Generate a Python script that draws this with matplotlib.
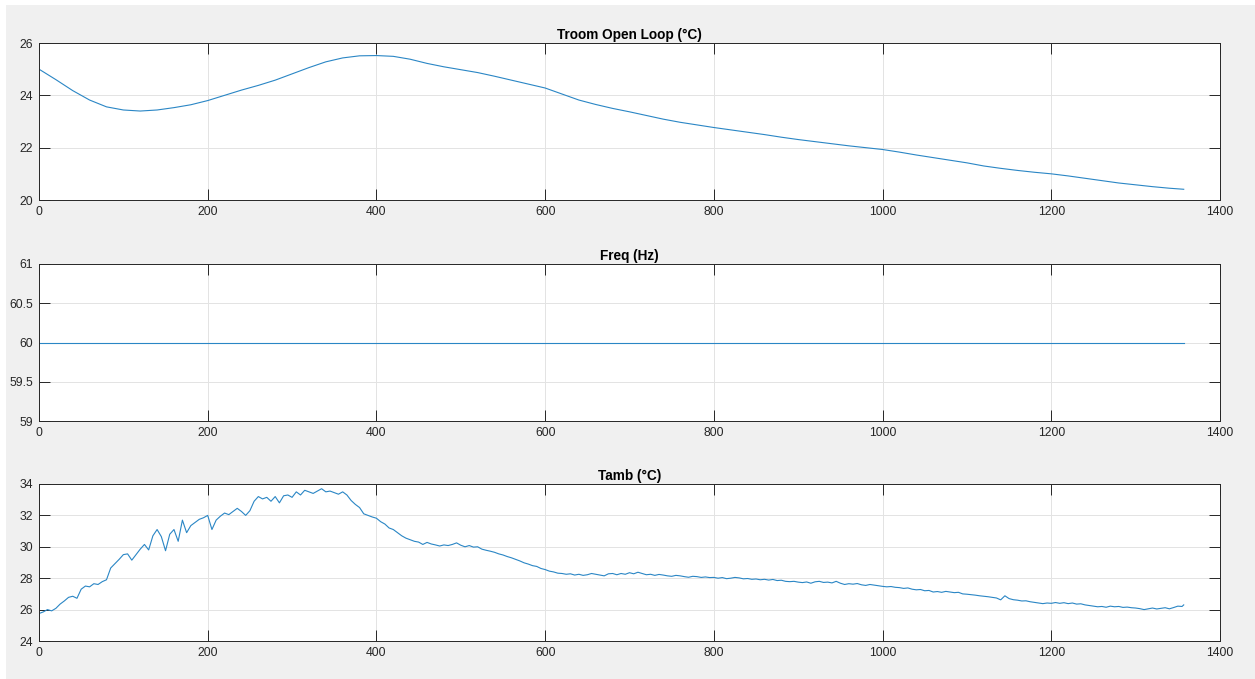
import matplotlib
matplotlib.use('Agg')
import matplotlib.pyplot as plt
from matplotlib.patches import Rectangle

plt.rcParams['font.family'] = ['Liberation Sans', 'DejaVu Sans']

# Troom open loop (degC), sampled every 20 s
troom_t = list(range(0, 1341, 20)) + [1357]
troom = [25.0, 24.6, 24.18, 23.82, 23.56, 23.44, 23.40, 23.44, 23.53, 23.64,
         23.8, 24.0, 24.2, 24.38, 24.58, 24.82, 25.06, 25.28, 25.43, 25.51,
         25.52, 25.49, 25.38, 25.22, 25.09, 24.98, 24.87, 24.73, 24.58, 24.43,
         24.28, 24.05, 23.82, 23.65, 23.5, 23.37, 23.23, 23.09, 22.97, 22.87,
         22.77, 22.68, 22.59, 22.5, 22.4, 22.31, 22.23, 22.15, 22.07, 22.0,
         21.93, 21.83, 21.72, 21.62, 21.52, 21.42, 21.3, 21.21, 21.13, 21.06,
         21.0, 20.92, 20.83, 20.74, 20.65, 20.58, 20.51, 20.45, 20.41]

# frequency (Hz)
freq_t = [0, 1357]
freq = [60.0, 60.0]

# ambient temperature (degC), sampled every 5 s
tamb_t = list(range(0, 1360, 5)) + [1357]
tamb = [25.75, 25.85, 26.0, 25.92, 26.08, 26.35, 26.55, 26.78, 26.85, 26.72,
        27.3, 27.5, 27.45, 27.65, 27.6, 27.78, 27.9, 28.65, 28.92, 29.2,
        29.5, 29.55, 29.15, 29.5, 29.85, 30.15, 29.8, 30.7, 31.1, 30.65,
        29.75, 30.8, 31.1, 30.35, 31.7, 30.9, 31.35, 31.55, 31.75, 31.85,
        32.0, 31.1, 31.7, 31.95, 32.15, 32.05, 32.25, 32.45, 32.25, 32.0,
        32.3, 32.9, 33.2, 33.05, 33.15, 32.9, 33.2, 32.8, 33.25, 33.3,
        33.15, 33.5, 33.3, 33.6, 33.5, 33.4, 33.55, 33.7, 33.5, 33.55,
        33.45, 33.35, 33.5, 33.3, 32.95, 32.7, 32.5, 32.1, 32.0, 31.9,
        31.82, 31.6, 31.45, 31.2, 31.1, 30.9, 30.7, 30.55, 30.45, 30.35,
        30.3, 30.15, 30.28, 30.18, 30.12, 30.05, 30.12, 30.08, 30.15, 30.25,
        30.1, 30.0, 30.08, 29.98, 30.0, 29.85, 29.78, 29.72, 29.65, 29.55,
        29.48, 29.38, 29.3, 29.2, 29.1, 28.98, 28.9, 28.8, 28.75, 28.62,
        28.55, 28.45, 28.4, 28.32, 28.3, 28.25, 28.28, 28.2, 28.25, 28.18,
        28.22, 28.3, 28.25, 28.2, 28.15, 28.28, 28.3, 28.22, 28.3, 28.25,
        28.35, 28.28, 28.38, 28.3, 28.22, 28.25, 28.18, 28.24, 28.2, 28.15,
        28.12, 28.18, 28.15, 28.1, 28.06, 28.12, 28.1, 28.05, 28.08, 28.04,
        28.05, 28.0, 28.04, 27.97, 28.0, 28.05, 28.02, 27.96, 27.98, 27.93,
        27.95, 27.9, 27.93, 27.88, 27.92, 27.85, 27.87, 27.8, 27.78, 27.8,
        27.75, 27.72, 27.76, 27.68, 27.77, 27.8, 27.73, 27.75, 27.7, 27.8,
        27.68, 27.6, 27.65, 27.62, 27.66, 27.58, 27.54, 27.6, 27.56, 27.52,
        27.48, 27.45, 27.47, 27.42, 27.4, 27.35, 27.38, 27.3, 27.26, 27.28,
        27.2, 27.22, 27.12, 27.15, 27.1, 27.16, 27.12, 27.08, 27.1, 27.0,
        26.98, 26.95, 26.92, 26.88, 26.85, 26.82, 26.78, 26.74, 26.62, 26.88,
        26.7, 26.63, 26.6, 26.55, 26.56, 26.5, 26.46, 26.42, 26.38, 26.42,
        26.4, 26.45, 26.4, 26.44, 26.38, 26.42, 26.35, 26.37, 26.3, 26.26,
        26.22, 26.18, 26.2, 26.15, 26.22, 26.18, 26.2, 26.14, 26.16, 26.12,
        26.1, 26.06, 26.0, 26.05, 26.1, 26.04, 26.08, 26.12, 26.05, 26.13,
        26.22, 26.2, 26.3]

titles = ['Troom Open Loop (°C)', 'Freq (Hz)', 'Tamb (°C)']
xticks = [0, 200, 400, 600, 800, 1000, 1200, 1400]
yticks_list = [[20, 22, 24, 26],
               [59, 59.5, 60, 60.5, 61],
               [24, 26, 28, 30, 32, 34]]

W, H = 1255, 679
fig = plt.figure(figsize=(W / 100, H / 100), dpi=100, facecolor='white')
# matlab grey window background (thin white strip at top/left)
fig.patches.append(Rectangle((6 / W, 0), 1, 1 - 5 / H, transform=fig.transFigure,
                             facecolor='#f0f0f0', edgecolor='none', zorder=-10))

left = 39 / W
width = (1220 - 39) / W
tops = [43, 264, 484]
ax_h = 157

series = [(troom_t, troom), (freq_t, freq), (tamb_t, tamb)]
for i in range(3):
    bottom = 1 - (tops[i] + ax_h) / H
    ax = fig.add_axes([left, bottom, width, ax_h / H])
    ax.set_facecolor('white')
    x, y = series[i]
    ax.plot(x, y, color='#2a86c5', linewidth=0.8)
    ax.set_xlim(0, 1400)
    yt = yticks_list[i]
    ax.set_ylim(yt[0], yt[-1])
    ax.set_xticks(xticks)
    ax.set_yticks(yt)
    ax.set_yticklabels([('%g' % v) for v in yt])
    ax.grid(True, color='#e3e3e3', linewidth=0.7)
    ax.set_axisbelow(True)
    for s in ax.spines.values():
        s.set_color('#262626')
        s.set_linewidth(0.7)
    ax.tick_params(direction='in', length=8, width=0.7, color='#262626',
                   top=True, right=True, labelsize=8.8, labelcolor='#262626', pad=4.5)
    ax.set_title(titles[i], fontsize=9.8, fontweight='bold', color='black', pad=3)

fig.savefig('out.png', dpi=100, facecolor=fig.get_facecolor())
